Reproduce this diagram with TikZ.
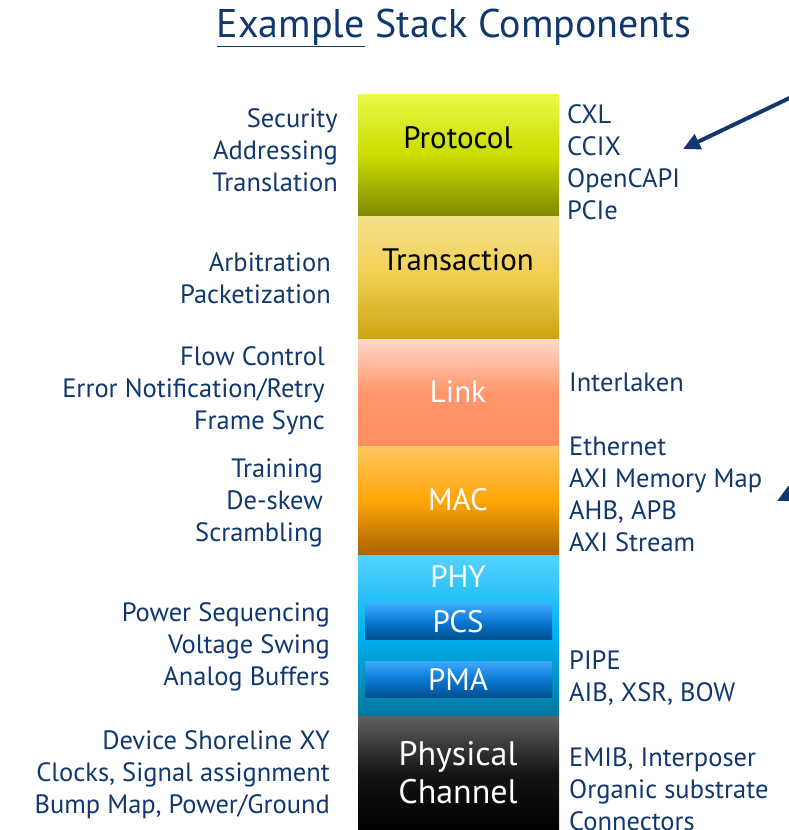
\documentclass[tikz,border=0pt]{standalone}
\usepackage{fontspec}
\setmainfont{PT Sans}
\usetikzlibrary{arrows.meta}

\definecolor{txtblue}{RGB}{16,56,110}
\definecolor{protoA}{RGB}{232,250,72}
\definecolor{protoB}{RGB}{202,220,0}
\definecolor{protoC}{RGB}{125,138,0}
\definecolor{transA}{RGB}{246,225,140}
\definecolor{transB}{RGB}{240,206,80}
\definecolor{transC}{RGB}{203,164,18}
\definecolor{linkA}{RGB}{255,216,200}
\definecolor{linkB}{RGB}{255,150,106}
\definecolor{linkC}{RGB}{255,142,98}
\definecolor{macA}{RGB}{255,197,94}
\definecolor{macB}{RGB}{255,166,8}
\definecolor{macC}{RGB}{168,98,0}
\definecolor{phyA}{RGB}{84,210,255}
\definecolor{phyB}{RGB}{0,176,240}
\definecolor{phyC}{RGB}{0,120,160}
\definecolor{subA}{RGB}{63,169,255}
\definecolor{subB}{RGB}{10,120,210}
\definecolor{subC}{RGB}{0,80,143}
\definecolor{chanA}{RGB}{96,96,96}
\definecolor{chanB}{RGB}{21,21,21}
\definecolor{chanC}{RGB}{0,0,0}

\begin{document}
\begin{tikzpicture}[x=1pt, y=-1pt,
  layer/.style={draw=none, rectangle, inner sep=0pt, anchor=north west, minimum width=201pt},
  sublayer/.style={draw=none, rectangle, inner sep=0pt, anchor=north west, minimum width=187pt,
    top color=subA, bottom color=subC, middle color=subB},
  side/.style={text=txtblue, inner sep=0pt, font=\fontsize{26.5}{32}\selectfont},
  lefttxt/.style={side, align=right, anchor=east},
  righttxt/.style={side, align=left, anchor=west},
  tag/.style={inner sep=0pt, font=\fontsize{31}{36}\selectfont},
  pointer/.style={draw=txtblue, line width=4pt, -{Triangle[length=17pt,width=16pt]}}]
  \useasboundingbox (0,0) rectangle (789,830);

  % title
  \node[text=txtblue, inner sep=0pt, font=\fontsize{40}{46}\selectfont] (title) at (454,28)
    {\underline{Example} Stack Components};

  % the stack
  \node[layer, minimum height=122pt, top color=protoA, bottom color=protoC, middle color=protoB] (proto) at (358,94) {};
  \node[layer, minimum height=123pt, top color=transA, bottom color=transC, middle color=transB] (trans) at (358,216) {};
  \node[layer, minimum height=107pt, top color=linkA, bottom color=linkC, middle color=linkB] (link) at (358,339) {};
  \node[layer, minimum height=109pt, top color=macA, bottom color=macC, middle color=macB] (mac) at (358,446) {};
  \node[layer, minimum height=161pt, top color=phyA, bottom color=phyC, middle color=phyB] (phy) at (358,555) {};
  \node[layer, minimum height=114pt, top color=chanA, bottom color=chanC, middle color=chanB] (chan) at (358,716) {};
  \node[sublayer, minimum height=35pt] (pcs) at (365,604) {};
  \node[sublayer, minimum height=36pt] (pma) at (365,661) {};

  % layer names
  \node[tag] (protoname) at (458,138) {Protocol};
  \node[tag] (transname) at (458,260) {Transaction};
  \node[tag, text=white] (linkname) at (458,392) {Link};
  \node[tag, text=white] (macname) at (458,500) {MAC};
  \node[tag, text=white] (phyname) at (458,577) {PHY};
  \node[tag, text=white] (pcsname) at (458,622) {PCS};
  \node[tag, text=white] (pmaname) at (458,679) {PMA};
  \node[tag, text=white, align=center, font=\fontsize{34}{38}\selectfont] (channame) at (458,773) {Physical\\Channel};

  % functions, left
  \node[lefttxt] (fproto) at (338,150) {Security\\Addressing\\Translation};
  \node[lefttxt] (ftrans) at (331,278) {Arbitration\\Packetization};
  \node[lefttxt] (flink) at (325,391) {Flow Control\\Error Notification/Retry\\Frame Sync};
  \node[lefttxt] (fmac) at (323,503) {Training\\De-skew\\Scrambling};
  \node[lefttxt] (fphy) at (330,647) {Power Sequencing\\Voltage Swing\\Analog Buffers};
  \node[lefttxt] (fchan) at (330,775) {Device Shoreline XY\\Clocks, Signal assignment\\Bump Map, Power/Ground};

  % examples, right
  \node[righttxt] (eproto) at (567,162) {CXL\\CCIX\\OpenCAPI\\PCIe};
  \node[righttxt] (elink) at (569,382) {Interlaken};
  \node[righttxt] (emac) at (569,494) {Ethernet\\AXI Memory Map\\AHB, APB\\AXI Stream};
  \node[righttxt] (ephy) at (569,678) {PIPE\\AIB, XSR, BOW};
  \node[righttxt] (echan) at (569,789) {EMIB, Interposer\\Organic substrate\\Connectors};

  % pointers coming in from the right
  \coordinate (srcA) at (800,93);
  \coordinate (tipA) at (683,149);
  \coordinate (srcB) at (836,472);
  \coordinate (tipB) at (777,501);
  \begin{scope}
    \clip (0,0) rectangle (789,830);
    \draw[pointer] (srcA) -- (tipA);
    \draw[pointer] (srcB) -- (tipB);
  \end{scope}
\end{tikzpicture}
\end{document}
